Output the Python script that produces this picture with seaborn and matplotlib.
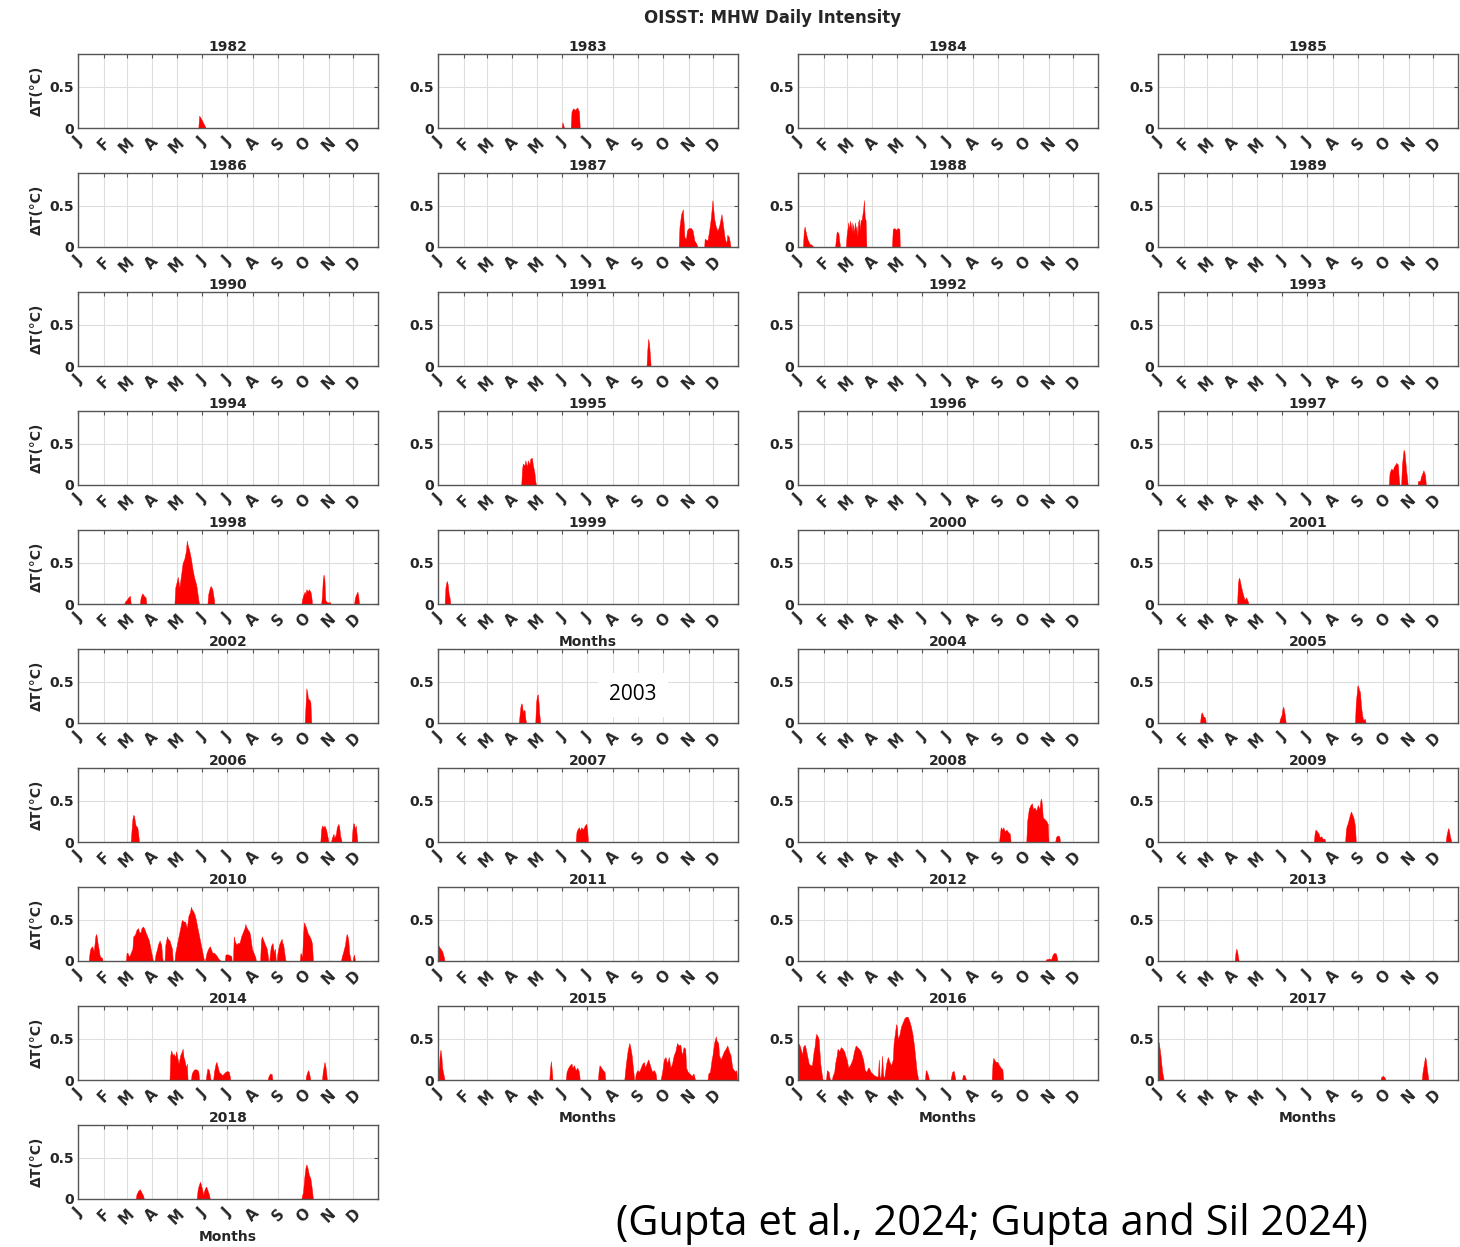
import numpy as np
import matplotlib
matplotlib.use("Agg")
import matplotlib.pyplot as plt
import matplotlib.transforms as mtransforms
import seaborn as sns

# ---------------------------------------------------------------------------
# Daily marine-heatwave intensity (ΔT, °C) — (day of year, value) vertices
# ---------------------------------------------------------------------------
years = list(range(1982, 2019))

month_starts = [1, 32, 60, 91, 121, 152, 182, 213, 244, 274, 305, 335]
month_labels = ["J", "F", "M", "A", "M", "J", "J", "A", "S", "O", "N", "D"]
ytick_values = [0, 0.5]
ytick_labels = ["0", "0.5"]

mhw_1982 = [(147, 0), (148, 0.15), (150, 0.12), (152, 0.08), (154, 0.04), (156, 0)]
mhw_1983 = [(151, 0), (152, 0.07), (154, 0), (162, 0), (163, 0.20), (165, 0.24), (167, 0.22),
            (170, 0.25), (172, 0.20), (173, 0)]
mhw_1984 = []
mhw_1985 = []
mhw_1986 = []
mhw_1987 = [(293, 0), (294, 0.25), (296, 0.40), (298, 0.46), (299, 0.30), (300, 0.12), (302, 0.10),
            (303, 0.20), (305, 0.23), (308, 0.23), (310, 0.20), (312, 0.08), (314, 0.05), (316, 0),
            (324, 0), (324.5, 0.10), (328, 0.08), (330, 0.20), (332, 0.35), (334, 0.57), (336, 0.35),
            (338, 0.25), (340, 0.20), (342, 0.25), (344, 0.35), (345, 0.40), (347, 0.25), (349, 0.10),
            (351, 0.05), (352, 0.15), (354, 0.12), (356, 0)]
mhw_1988 = [(7, 0), (8, 0.20), (9, 0.25), (11, 0.15), (13, 0.08), (15, 0.04), (17, 0.03), (20, 0),
            (46, 0), (47, 0.10), (48, 0.19), (50, 0.17), (51, 0.08), (52, 0),
            (59, 0), (60, 0.15), (61, 0.22), (62, 0.30), (63, 0.20), (64, 0.32), (65, 0.22), (66, 0.30),
            (67, 0.18), (68, 0.28), (69, 0.15), (70, 0.30), (71, 0.20), (72, 0.26), (73, 0.12),
            (74, 0.30), (75, 0.34), (76, 0.20), (77, 0.33), (78, 0.32), (80, 0.45), (81, 0.57),
            (82, 0.35), (83, 0.33), (84, 0),
            (115, 0), (116, 0.22), (118, 0.23), (120, 0.21), (122, 0.23), (124, 0.22), (124.5, 0)]
mhw_1989 = []
mhw_1990 = []
mhw_1991 = [(254, 0), (255, 0.20), (256, 0.33), (257, 0.28), (258, 0.15), (259, 0)]
mhw_1992 = []
mhw_1993 = []
mhw_1994 = []
mhw_1995 = [(102, 0), (103, 0.20), (104, 0.26), (106, 0.24), (107, 0.30), (109, 0.22), (110, 0.30),
            (112, 0.25), (113, 0.32), (115, 0.33), (116, 0.25), (118, 0.15), (119, 0.05), (120, 0)]
mhw_1996 = []
mhw_1997 = [(281, 0), (282, 0.15), (284, 0.20), (286, 0.18), (287, 0.22), (289, 0.25), (290, 0.27),
            (292, 0.25), (293, 0.10), (294, 0),
            (296, 0), (297, 0.25), (299, 0.43), (300, 0.40), (301, 0.30), (302, 0.18), (303, 0.10), (304, 0),
            (316, 0), (316.5, 0.05), (319, 0.05), (320, 0.10), (322, 0.15), (323, 0.18), (325, 0.12), (326, 0)]
mhw_1998 = [(57, 0), (58, 0.03), (60, 0.05), (62, 0.08), (64, 0.10), (65, 0),
            (76, 0), (77, 0.08), (79, 0.13), (81, 0.10), (83, 0.08), (84, 0),
            (118, 0), (119, 0.20), (121, 0.28), (122, 0.33), (124, 0.20), (126, 0.35), (128, 0.50),
            (130, 0.55), (132, 0.65), (133, 0.77), (134, 0.72), (136, 0.65), (138, 0.55), (140, 0.42),
            (142, 0.32), (144, 0.25), (145, 0.20), (147, 0.05), (148, 0),
            (158, 0), (159, 0.12), (161, 0.20), (162, 0.22), (164, 0.18), (166, 0.05), (166.5, 0),
            (272, 0), (273, 0.06), (274, 0.10), (276, 0.15), (277, 0.12), (278, 0.18), (280, 0.15),
            (281, 0.18), (283, 0.15), (284, 0.10), (285, 0),
            (296, 0), (297, 0.10), (298, 0.30), (299, 0.36), (300, 0.30), (301, 0.05), (303, 0.02),
            (307, 0.02), (307.5, 0),
            (336, 0), (337, 0.08), (339, 0.13), (340, 0.15), (341, 0.10), (342, 0)]
mhw_1999 = [(9, 0), (10, 0.20), (11, 0.26), (12, 0.28), (13, 0.22), (14, 0.12), (15, 0.08), (16, 0)]
mhw_2000 = []
mhw_2001 = [(97, 0), (98, 0.25), (99, 0.32), (100, 0.30), (102, 0.20), (104, 0.12), (106, 0.05),
            (108, 0.08), (110, 0.03), (111, 0)]
mhw_2002 = [(276, 0), (277, 0.20), (278, 0.42), (279, 0.38), (280, 0.30), (282, 0.28), (283, 0.25), (284, 0)]
mhw_2003 = [(99, 0), (100, 0.10), (101, 0.20), (102, 0.24), (103, 0.22), (104, 0.12), (105, 0.16),
            (106, 0.15), (107, 0.05), (108, 0),
            (119, 0), (120, 0.25), (121, 0.33), (122, 0.35), (123, 0.25), (124, 0.10), (125, 0)]
mhw_2004 = []
mhw_2005 = [(52, 0), (53, 0.10), (54, 0.13), (55, 0.11), (56, 0.08), (58, 0.07), (59, 0),
            (148, 0), (149, 0.05), (151, 0.10), (152, 0.17), (153, 0.20), (154, 0.15), (155, 0.08), (156, 0),
            (240, 0), (241, 0.25), (242, 0.35), (243, 0.46), (244, 0.44), (245, 0.40), (246, 0.38),
            (247, 0.25), (248, 0.15), (249, 0.08), (250, 0.04), (252, 0.05), (253, 0)]
mhw_2006 = [(65, 0), (66, 0.15), (67, 0.28), (68, 0.33), (69, 0.32), (70, 0.25), (71, 0.20), (73, 0.18),
            (74, 0.10), (75, 0),
            (295, 0), (296, 0.15), (297, 0.20), (299, 0.18), (300, 0.20), (302, 0.15), (304, 0.05), (305, 0),
            (308, 0), (309, 0.05), (311, 0.10), (312, 0.05), (314, 0.10), (315, 0.18), (317, 0.22),
            (318, 0.18), (319, 0.08), (321, 0),
            (333, 0), (334, 0.15), (335, 0.23), (336, 0.22), (337, 0.15), (338, 0.20), (339, 0.10), (340, 0)]
mhw_2007 = [(168, 0), (169, 0.12), (170, 0.15), (172, 0.18), (173, 0.14), (175, 0.18), (177, 0.15),
            (179, 0.20), (181, 0.22), (182, 0.15), (183, 0)]
mhw_2008 = [(245, 0), (246, 0.10), (247, 0.18), (249, 0.15), (250, 0.18), (252, 0.13), (254, 0.15),
            (256, 0.12), (258, 0.10), (259, 0),
            (278, 0), (279, 0.25), (281, 0.40), (283, 0.45), (285, 0.47), (286, 0.40), (288, 0.42),
            (290, 0.38), (292, 0.45), (294, 0.40), (295, 0.50), (296, 0.53), (297, 0.45), (298, 0.30),
            (300, 0.28), (302, 0.26), (304, 0.22), (305, 0),
            (313, 0), (314, 0.06), (316, 0.08), (318, 0.07), (319, 0)]
mhw_2009 = [(190, 0), (191, 0.10), (192, 0.15), (194, 0.13), (196, 0.10), (197, 0.06), (199, 0.07),
            (201, 0.04), (203, 0.04), (204, 0),
            (228, 0), (229, 0.15), (230, 0.20), (231, 0.22), (233, 0.30), (235, 0.37), (236, 0.35),
            (238, 0.30), (239, 0.25), (240, 0.20), (241, 0),
            (350, 0), (351, 0.08), (353, 0.17), (354, 0.15), (355, 0.08), (357, 0)]
mhw_2010 = [(14, 0), (15, 0.10), (16, 0.15), (18, 0.18), (20, 0.12), (21, 0.20), (22, 0.30), (23, 0.33),
            (24, 0.28), (25, 0.20), (26, 0.15), (27, 0.08), (28, 0.05), (30, 0.04), (31, 0),
            (59, 0), (60, 0.10), (61, 0.10), (63, 0.05), (65, 0.10), (67, 0.15), (68, 0.30), (70, 0.32),
            (72, 0.38), (74, 0.40), (75, 0.35), (77, 0.35), (78, 0.40), (80, 0.42), (82, 0.38),
            (83, 0.35), (85, 0.30), (87, 0.25), (89, 0.15), (91, 0.05), (92, 0),
            (94, 0), (95, 0.08), (97, 0.15), (98, 0.20), (100, 0.25), (101, 0.22), (102, 0.20),
            (103, 0.05), (104, 0),
            (106, 0), (107, 0.20), (109, 0.30), (110, 0.27), (112, 0.25), (114, 0.18), (115, 0.15), (116, 0),
            (118, 0), (119, 0.10), (121, 0.20), (124, 0.35), (126, 0.45), (127, 0.50), (129, 0.48),
            (131, 0.48), (133, 0.40), (135, 0.55), (137, 0.60), (138, 0.66), (139, 0.63), (141, 0.60),
            (143, 0.55), (144, 0.50), (147, 0.35), (150, 0.20), (152, 0.10), (153, 0.05), (154, 0),
            (155, 0), (156, 0.05), (157, 0.10), (159, 0.15), (161, 0.18), (162, 0.15), (164, 0.10),
            (166, 0.10), (168, 0.08), (170, 0.05), (172, 0.02), (175, 0),
            (179, 0), (180, 0.08), (183, 0.08), (185, 0.07), (187, 0.06), (187.5, 0),
            (189, 0), (190, 0.30), (191, 0.25), (193, 0.20), (195, 0.22), (197, 0.22), (199, 0.30),
            (201, 0.35), (203, 0.40), (204, 0.45), (205, 0.42), (207, 0.38), (209, 0.35), (210, 0.30),
            (212, 0.15), (214, 0.10), (216, 0.05), (217, 0),
            (222, 0), (223, 0.25), (224, 0.30), (226, 0.25), (228, 0.20), (230, 0.15), (231, 0.08), (232, 0),
            (233, 0), (234, 0.10), (235, 0.18), (237, 0.22), (238, 0.15), (239, 0.10), (240, 0.15), (241, 0),
            (242, 0), (243, 0.10), (245, 0.20), (247, 0.25), (248, 0.27), (249, 0.22), (250, 0.20),
            (252, 0.05), (253, 0),
            (270, 0), (271, 0.10), (273, 0.05), (274, 0.30), (275, 0.47), (276, 0.45), (278, 0.40),
            (280, 0.33), (282, 0.30), (284, 0.25), (285, 0.20), (286, 0),
            (320, 0), (321, 0.05), (323, 0.12), (325, 0.20), (326, 0.28), (327, 0.33), (328, 0.30),
            (329, 0.25), (330, 0.10), (331, 0.05), (332, 0),
            (334, 0), (335, 0.05), (336, 0.08), (337, 0)]
mhw_2011 = [(1, 0.20), (2, 0.18), (4, 0.15), (6, 0.12), (8, 0.05), (9, 0)]
mhw_2012 = [(301, 0), (302, 0.02), (306, 0.03), (308, 0.02), (310, 0.08), (312, 0.10), (314, 0.09), (316, 0)]
mhw_2013 = [(94, 0), (95, 0.10), (96, 0.15), (97, 0.12), (98, 0.05), (99, 0)]
mhw_2014 = [(112, 0), (113, 0.30), (114, 0.36), (116, 0.30), (117, 0.32), (119, 0.28), (120, 0.35),
            (122, 0.25), (123, 0.20), (125, 0.30), (127, 0.35), (128, 0.38), (129, 0.28), (130, 0.25),
            (132, 0.15), (133, 0.20), (134, 0),
            (138, 0), (139, 0.08), (140, 0.10), (142, 0.13), (144, 0.13), (146, 0.12), (147, 0.10), (148, 0),
            (156, 0), (157, 0.08), (158, 0.14), (160, 0.12), (161, 0.05), (162, 0),
            (165, 0), (166, 0.10), (168, 0.20), (169, 0.22), (170, 0.18), (172, 0.10), (174, 0.08),
            (176, 0.06), (178, 0.08), (180, 0.10), (182, 0.11), (184, 0.10), (186, 0),
            (231, 0), (232, 0.04), (234, 0.08), (236, 0.07), (237, 0),
            (277, 0), (278, 0.06), (280, 0.12), (281, 0.10), (282, 0.05), (283, 0),
            (297, 0), (298, 0.10), (300, 0.22), (301, 0.18), (302, 0.10), (303, 0)]
mhw_2015 = [(1, 0.10), (2, 0.15), (3, 0.30), (4, 0.37), (5, 0.30), (6, 0.15), (7, 0.10), (9, 0),
            (136, 0), (137, 0.15), (138, 0.23), (139, 0.12), (140, 0),
            (156, 0), (157, 0.10), (159, 0.15), (161, 0.18), (163, 0.20), (164, 0.15), (166, 0.18),
            (168, 0.12), (170, 0.15), (172, 0.10), (173, 0),
            (195, 0), (196, 0.12), (197, 0.18), (199, 0.15), (201, 0.12), (203, 0.10), (204, 0),
            (227, 0), (228, 0.10), (229, 0.20), (231, 0.35), (233, 0.45), (234, 0.42), (236, 0.30),
            (238, 0.10), (239, 0),
            (240, 0), (241, 0.08), (243, 0.12), (245, 0.10), (247, 0.15), (249, 0.20), (251, 0.22),
            (252, 0.15), (254, 0.20), (256, 0.25), (257, 0.22), (259, 0.15), (261, 0.10), (263, 0.12),
            (265, 0.08), (266, 0),
            (271, 0), (272, 0.05), (273, 0.10), (275, 0.25), (277, 0.28), (279, 0.20), (281, 0.28),
            (283, 0.15), (285, 0.20), (287, 0.30), (289, 0.35), (291, 0.45), (293, 0.42), (295, 0.43),
            (297, 0.30), (299, 0.40), (301, 0.38), (302, 0.15), (304, 0.10), (306, 0.08), (309, 0.05),
            (311, 0.08), (313, 0),
            (328, 0), (329, 0.08), (331, 0.10), (333, 0.25), (334, 0.30), (336, 0.45), (338, 0.53),
            (339, 0.48), (341, 0.45), (342, 0.30), (344, 0.25), (346, 0.30), (348, 0.35), (350, 0.38),
            (352, 0.42), (354, 0.35), (356, 0.30), (358, 0.15), (360, 0.12), (362, 0.10), (363, 0.12),
            (364, 0)]
mhw_2016 = [(1, 0.45), (2, 0.44), (3, 0.42), (5, 0.35), (6, 0.30), (7, 0.40), (9, 0.43), (10, 0.40),
            (12, 0.30), (13, 0.25), (14, 0.20), (16, 0.18), (18, 0.18), (20, 0.35), (21, 0.40),
            (22, 0.50), (23, 0.56), (24, 0.55), (26, 0.50), (27, 0.35), (28, 0.20), (30, 0.05), (31, 0),
            (35, 0), (36, 0.12), (38, 0.10), (39, 0.04), (40, 0),
            (42, 0), (43, 0.05), (45, 0.10), (46, 0.20), (48, 0.30), (49, 0.38), (51, 0.35), (53, 0.40),
            (55, 0.38), (57, 0.35), (59, 0.28), (60, 0.25), (62, 0.15), (64, 0.18), (65, 0.20),
            (67, 0.25), (69, 0.35), (71, 0.42), (73, 0.40), (75, 0.38), (77, 0.35), (79, 0.28),
            (80, 0.25), (82, 0.12), (84, 0.10), (86, 0.15), (87, 0.15), (89, 0.10), (91, 0.08),
            (93, 0.06), (95, 0.05), (97, 0.04), (98, 0.05), (99, 0.25), (100, 0.05), (101, 0.02),
            (102, 0.10), (103, 0.30), (104, 0.10), (105, 0.02), (106, 0.05), (108, 0.20), (110, 0.28),
            (112, 0.22), (114, 0.18), (116, 0.25), (117, 0.45), (119, 0.60), (120, 0.68), (121, 0.65),
            (122, 0.50), (124, 0.55), (126, 0.65), (128, 0.70), (130, 0.75), (132, 0.77), (134, 0.77),
            (136, 0.72), (138, 0.65), (140, 0.55), (142, 0.40), (144, 0.20), (145, 0.10), (147, 0),
            (155, 0), (156, 0.12), (157, 0.11), (159, 0.05), (160, 0),
            (186, 0), (187, 0.05), (188, 0.10), (190, 0.11), (191, 0.05), (192, 0),
            (200, 0), (201, 0.06), (203, 0.06), (204, 0.03), (205, 0),
            (236, 0), (237, 0.20), (238, 0.27), (239, 0.25), (241, 0.22), (243, 0.22), (245, 0.18),
            (247, 0.15), (249, 0.13), (250, 0)]
mhw_2017 = [(1, 0.48), (2, 0.45), (3, 0.38), (4, 0.30), (5, 0.20), (6, 0.10), (7, 0.05), (8, 0),
            (271, 0), (272, 0.04), (274, 0.05), (276, 0.03), (277, 0),
            (321, 0), (322, 0.10), (324, 0.22), (325, 0.28), (326, 0.25), (327, 0.15), (328, 0.08), (329, 0)]
mhw_2018 = [(71, 0), (72, 0.06), (74, 0.10), (76, 0.12), (78, 0.08), (80, 0.04), (81, 0),
            (145, 0), (146, 0.10), (147, 0.15), (149, 0.21), (150, 0.18), (152, 0.10), (153, 0.05),
            (154, 0.10), (156, 0.15), (157, 0.14), (159, 0.08), (160, 0.05), (161, 0),
            (272, 0), (273, 0.05), (274, 0.08), (275, 0.20), (276, 0.30), (277, 0.38), (278, 0.42),
            (279, 0.40), (280, 0.35), (281, 0.30), (283, 0.25), (285, 0.10), (286, 0)]

intensity = {yr: globals()[f"mhw_{yr}"] for yr in years}

# panels that carry the x-axis label
months_label_years = [1999, 2015, 2016, 2017, 2018]

# ---------------------------------------------------------------------------
# Styling
# ---------------------------------------------------------------------------
sns.set_theme(style="white")
plt.rcParams["font.family"] = ["DejaVu Sans"]
TEXT = "#262626"
SPINE = "#555555"
GRID = "#dedede"

W, H = 1460, 1247
fig = plt.figure(figsize=(W / 100, H / 100), dpi=100)
fig.patch.set_facecolor("white")

col_left = [78, 438, 798, 1158]
ax_w, ax_h = 300, 74
row_top0, row_step = 54, 119

for i, yr in enumerate(years):
    r, c = divmod(i, 4)
    left = col_left[c]
    top = row_top0 + r * row_step
    ax = fig.add_axes([left / W, 1 - (top + ax_h) / H, ax_w / W, ax_h / H])

    pts = intensity[yr]
    if pts:
        d = np.array([p[0] for p in pts], dtype=float)
        v = np.array([p[1] for p in pts], dtype=float)
        ax.fill_between(d, 0, v, color="#ff0000", linewidth=0.3, edgecolor="#ff0000", zorder=3)

    ax.set_xlim(1, 365)
    ax.set_ylim(0, 0.9)
    ax.set_xticks(month_starts)
    ax.set_xticklabels(month_labels, rotation=45, ha="center", va="top",
                       fontsize=10.5, fontweight="bold", color=TEXT)
    offset = mtransforms.ScaledTranslation(4 / 100, 0, fig.dpi_scale_trans)
    for lab in ax.get_xticklabels():
        lab.set_transform(lab.get_transform() + offset)
    ax.set_yticks(ytick_values)
    ax.set_yticklabels(ytick_labels, fontsize=10, fontweight="bold", color=TEXT)
    ax.tick_params(axis="both", direction="in", length=3, width=0.8, color=SPINE,
                   top=True, right=True, pad=3)
    ax.tick_params(axis="x", pad=5)
    ax.grid(True, color=GRID, linewidth=0.8, zorder=0)
    ax.set_axisbelow(True)
    for s in ax.spines.values():
        s.set_color(SPINE)
        s.set_linewidth(1.0)
        s.set_zorder(4)

    if yr != 2003:
        ax.set_title(str(yr), fontsize=10, fontweight="bold", color=TEXT, pad=2)
    if c == 0:
        ax.set_ylabel("ΔT(°C)", fontsize=10, fontweight="bold", color=TEXT, labelpad=4)
    else:
        ax.set_ylabel("")
    if yr in months_label_years:
        ax.set_xlabel("Months", fontsize=10, fontweight="bold", color=TEXT, labelpad=2)
    else:
        ax.set_xlabel("")

    if yr == 2003:
        ax.text(0.65, 0.38, "2003", transform=ax.transAxes, ha="center", va="center",
                fontsize=15, family="Open Sans", color="black", zorder=6,
                bbox=dict(boxstyle="square,pad=0.55", facecolor="white", edgecolor="none"))

fig.text(773 / W, 1 - 18 / H, "OISST: MHW Daily Intensity", ha="center", va="center",
         fontsize=12, fontweight="bold", color=TEXT)
fig.text(992 / W, 1 - 1224 / H, "(Gupta et al., 2024; Gupta and Sil 2024)", ha="center",
         va="center", fontsize=30, family="Open Sans", color="black")

fig.savefig("out.png", dpi=100, facecolor="white")
